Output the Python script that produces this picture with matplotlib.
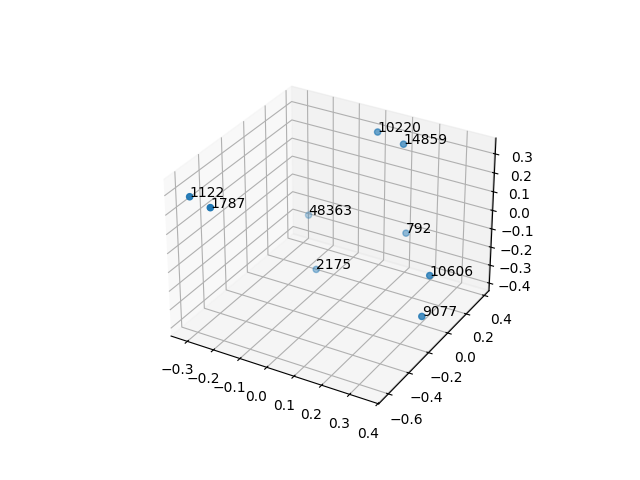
import matplotlib
matplotlib.use('Agg')
import matplotlib.pyplot as plt

labels = ['1122', '1787', '9077', '10606', '14859', '10220', '792', '2175', '48363']
xs = [-0.314, -0.2255, 0.354, 0.34, 0.115, 0.019, 0.11, -0.138, -0.27]
ys = [-0.593, -0.62, -0.138, -0.025, 0.32, 0.319, 0.38, 0.12, 0.38]
zs = [0.269, 0.261, -0.301, -0.145, 0.301, 0.33, -0.209, -0.39, -0.263]

fig = plt.figure(figsize=(6.4, 4.8))
ax = fig.add_subplot(projection='3d')
ax.scatter(xs, ys, zs)
for x, y, z, label in zip(xs, ys, zs, labels):
    ax.text(x, y, z, label)

fig.savefig('out.png', dpi=100)
